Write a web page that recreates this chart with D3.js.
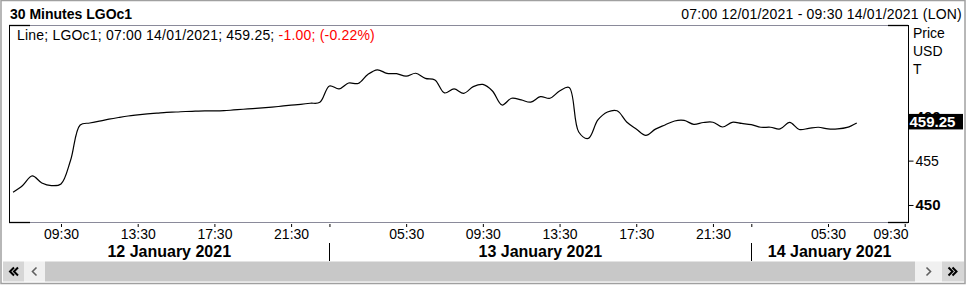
<!DOCTYPE html>
<html>
<head>
<meta charset="utf-8">
<script src="https://cdn.jsdelivr.net/npm/d3@7"></script>
<style>
	body { margin: 0; background: #fff; }
	svg { display: block; font-family: "Liberation Sans", Arial, sans-serif; }
</style>
</head>
<body>
<svg id="chart"></svg>
<script>
// days shown on the axis and the 30 minute slots of each session
var days = ["12/01", "13/01", "14/01"];
var dayLabels = ["12 January 2021", "13 January 2021", "14 January 2021"];
var slots12 = ["07:00","07:30","08:00","08:30","09:00","09:30","10:00","10:30","11:00","11:30",
	"12:00","12:30","13:00","13:30","14:00","14:30","15:00","15:30","16:00","16:30","17:00","17:30",
	"18:00","18:30","19:00","19:30","20:00","20:30","21:00","21:30","22:00","22:30"];
var slots13 = ["01:00","01:30","02:00","02:30","03:00","03:30","04:00","04:30","05:00","05:30",
	"06:00","06:30","07:00","07:30","08:00","08:30","09:00","09:30","10:00","10:30","11:00","11:30",
	"12:00","12:30","13:00","13:30","14:00","14:30","15:00","15:30","16:00","16:30","17:00","17:30",
	"18:00","18:30","19:00","19:30","20:00","20:30","21:00","21:30","22:00","22:30"];
var slots14 = ["01:00","01:30","02:00","02:30","03:00","03:30","04:00","04:30","05:00","05:30",
	"06:00","06:30","07:00","07:30","08:00","08:30","09:00","09:30"];

// LGOc1 closes per 30 minute bar
var prices12 = [451.43, 452.20, 453.27, 452.48, 452.18, 452.37, 455.04, 459.02, 459.24, 459.45,
	459.67, 459.86, 460.03, 460.15, 460.26, 460.35, 460.45, 460.48, 460.54, 460.57, 460.60, 460.60,
	460.63, 460.71, 460.79, 460.86, 460.94, 461.03, 461.14, 461.25, 461.35, 461.47];
var prices13 = [461.57, 463.42, 463.08, 463.75, 463.70, 464.71, 465.24, 464.84, 464.80, 464.52,
	464.85, 464.28, 464.09, 462.63, 463.08, 462.59, 463.34, 463.59, 462.85, 461.27, 462.03, 461.84,
	461.59, 462.21, 462.03, 462.85, 463.25, 458.23, 457.50, 459.58, 460.48, 460.62, 459.36, 458.57,
	457.84, 458.55, 459.02, 459.47, 459.53, 459.09, 459.30, 459.33, 458.79, 459.32];
var prices14 = [459.19, 459.06, 458.76, 458.76, 458.57, 459.31, 458.51, 458.64, 458.76, 458.57,
	458.57, 458.74, 459.25];

var timeTicks = ["05:30", "09:30", "13:30", "17:30", "21:30"];
var dayBreak = "01:30";
var priceTicks = [450, 455, 460];
var lastPrice = 459.25;

var width = 967, height = 285;
var plot = {left: 9, right: 908, top: 25, bottom: 222};

var slotsByDay = [slots12, slots13, slots14];
var pricesByDay = [prices12, prices13, prices14];
var keys = [], points = [];
days.forEach(function(day, i) {
	slotsByDay[i].forEach(function(t, j) {
		var k = day + " " + t;
		keys.push(k);
		if (j < pricesByDay[i].length) points.push({key: k, v: pricesByDay[i][j]});
	});
});

var svg = d3.select("#chart")
	.attr("width", width)
	.attr("height", height);

var x = d3.scalePoint()
	.domain(keys)
	.range([13.06, 904.7]);
var y = d3.scaleLinear()
	.domain([448.08, 470.29])
	.range([plot.bottom, plot.top]);

// window frame
svg.append("rect")
	.attr("x", 1).attr("y", 0.5)
	.attr("width", width - 3).attr("height", height - 2)
	.attr("fill", "none").attr("stroke", "#a0a0a0").attr("stroke-width", 1.5);

svg.append("text")
	.attr("x", 10).attr("y", 19)
	.attr("font-size", 14).attr("font-weight", "bold")
	.text("30 Minutes LGOc1");
svg.append("text")
	.attr("x", 962).attr("y", 19)
	.attr("font-size", 14).attr("text-anchor", "end")
	.attr("letter-spacing", 0.2)
	.text("07:00 12/01/2021 - 09:30 14/01/2021 (LON)");

// plot frame
var frame = svg.append("g");
[plot.top + 0.5, plot.bottom + 0.5].forEach(function(yy) {
	frame.append("line")
		.attr("x1", plot.left).attr("x2", plot.right).attr("y1", yy).attr("y2", yy)
		.attr("stroke", "#8a8a9a");
	frame.append("line")
		.attr("x1", plot.left).attr("x2", plot.left + 21).attr("y1", yy).attr("y2", yy)
		.attr("stroke", "#000").attr("stroke-width", 1.3);
	frame.append("line")
		.attr("x1", plot.right - 20).attr("x2", plot.right).attr("y1", yy).attr("y2", yy)
		.attr("stroke", "#000").attr("stroke-width", 1.3);
});
frame.append("line")
	.attr("x1", plot.left + 0.5).attr("x2", plot.left + 0.5)
	.attr("y1", plot.top).attr("y2", plot.bottom + 1)
	.attr("stroke", "#000");
frame.append("line")
	.attr("x1", plot.right + 0.5).attr("x2", plot.right + 0.5)
	.attr("y1", plot.top).attr("y2", plot.bottom + 1)
	.attr("stroke", "#000");

svg.append("defs").append("clipPath")
	.attr("id", "clip")
	.append("rect")
	.attr("x", plot.left + 1).attr("y", plot.top + 1)
	.attr("width", plot.right - plot.left - 1)
	.attr("height", plot.bottom - plot.top - 1);

var line = d3.line()
	.x(function(d) { return x(d.key); })
	.y(function(d) { return y(d.v); })
	.curve(d3.curveCatmullRom.alpha(0.5));

svg.append("path")
	.datum(points)
	.attr("clip-path", "url(#clip)")
	.attr("d", line)
	.attr("fill", "none")
	.attr("stroke", "#000")
	.attr("stroke-width", 1.2);

// legend
var last = points[points.length - 1];
var legend = svg.append("text")
	.attr("x", 17).attr("y", 39.5)
	.attr("font-size", 14)
	.attr("letter-spacing", 0.2);
legend.append("tspan").text("Line; LGOc1; 07:00 14/01/2021; " + d3.format(".2f")(last.v) + "; ");
legend.append("tspan").attr("fill", "#ff0000").text("-1.00; (-0.22%)");

// price axis
var yAxis = svg.append("g")
	.attr("transform", "translate(" + (plot.right + 0.5) + ",0)")
	.call(d3.axisRight(y).tickValues(priceTicks).tickSize(5).tickPadding(2));
yAxis.select(".domain").remove();
yAxis.selectAll("line").attr("stroke", "#000");
yAxis.selectAll("text")
	.attr("font-family", "Liberation Sans, Arial, sans-serif")
	.attr("fill", "#000")
	.attr("font-size", function(d) { return d % 10 === 0 ? 15 : 14; })
	.attr("font-weight", function(d) { return d % 10 === 0 ? "bold" : "normal"; });

["Price", "USD", "T"].forEach(function(s, i) {
	svg.append("text")
		.attr("x", 913).attr("y", 38 + i * 18)
		.attr("font-size", 14)
		.text(s);
});

svg.append("rect")
	.attr("x", plot.right + 0.5).attr("y", y(lastPrice) - 9)
	.attr("width", 54.5).attr("height", 15.5)
	.attr("fill", "#000");
svg.append("text")
	.attr("x", plot.right + 1.5).attr("y", y(lastPrice) + 4)
	.attr("font-size", 15).attr("font-weight", "bold")
	.attr("fill", "#fff")
	.text(d3.format(".2f")(lastPrice));

// time axis
var tickKeys = keys.filter(function(k) { return timeTicks.indexOf(k.slice(6)) >= 0; });
var breakKeys = keys.filter(function(k) { return k.slice(6) === dayBreak; });

var xAxis = svg.append("g")
	.attr("transform", "translate(0," + (plot.bottom + 2) + ")")
	.call(d3.axisBottom(x).tickValues(tickKeys.concat(breakKeys)).tickSize(3).tickPadding(2)
		.tickFormat(function(k) { return breakKeys.indexOf(k) >= 0 ? "" : k.slice(6); }));
xAxis.select(".domain").remove();
xAxis.selectAll("line").attr("stroke", "#000");
xAxis.selectAll("text")
	.attr("font-family", "Liberation Sans, Arial, sans-serif")
	.attr("font-size", 14)
	.attr("fill", "#000")
	.each(function(k) {
		var t = d3.select(this);
		var w = this.getComputedTextLength();
		if (x(k) + w / 2 > plot.right) t.attr("text-anchor", "end").attr("x", plot.right - x(k));
	});

svg.selectAll(".daybreak")
	.data(breakKeys)
	.enter().append("line")
	.attr("class", "daybreak")
	.attr("x1", function(k) { return Math.round(x(k)) + 0.5; })
	.attr("x2", function(k) { return Math.round(x(k)) + 0.5; })
	.attr("y1", 243).attr("y2", 261)
	.attr("stroke", "#000");

var edges = [plot.left].concat(breakKeys.map(function(k) { return x(k); }), [plot.right]);
svg.selectAll(".day")
	.data(dayLabels)
	.enter().append("text")
	.attr("class", "day")
	.attr("x", function(d, i) { return (edges[i] + edges[i + 1]) / 2; })
	.attr("y", 256.5)
	.attr("text-anchor", "middle")
	.attr("font-size", 16).attr("font-weight", "bold")
	.text(function(d) { return d; });

// scroll bar: buttons hold one or two chevrons pointing left (-1) or right (1)
var bar = svg.append("g").attr("transform", "translate(0,261.5)");
var parts = [
	{x0: 3, x1: 24, fill: "#d6d6d6", dir: -1, n: 2, c: "#000", w: 2},
	{x0: 24, x1: 45, fill: "#f0f0f0", dir: -1, n: 1, c: "#606060", w: 1.6},
	{x0: 45, x1: 915, fill: "#c8c8c8", dir: 0, n: 0, c: "#000", w: 0},
	{x0: 915, x1: 942, fill: "#f0f0f0", dir: 1, n: 1, c: "#606060", w: 1.6},
	{x0: 942, x1: 964, fill: "#d6d6d6", dir: 1, n: 2, c: "#000", w: 2}
];
bar.selectAll("rect")
	.data(parts)
	.enter().append("rect")
	.attr("x", function(d) { return d.x0; })
	.attr("width", function(d) { return d.x1 - d.x0; })
	.attr("height", 20)
	.attr("fill", function(d) { return d.fill; });
bar.selectAll("path")
	.data(parts.filter(function(d) { return d.n > 0; }))
	.enter().append("path")
	.attr("fill", "none")
	.attr("stroke", function(d) { return d.c; })
	.attr("stroke-width", function(d) { return d.w; })
	.attr("d", function(d) {
		var cx = (d.x0 + d.x1) / 2, p = "";
		for (var i = 0; i < d.n; i++) {
			var tip = cx + d.dir * (d.n === 2 ? (i === 0 ? -0.5 : 3.5) : 2);
			p += "M" + (tip - d.dir * 4) + ",6L" + tip + ",10L" + (tip - d.dir * 4) + ",14";
		}
		return p;
	});
</script>
</body>
</html>
